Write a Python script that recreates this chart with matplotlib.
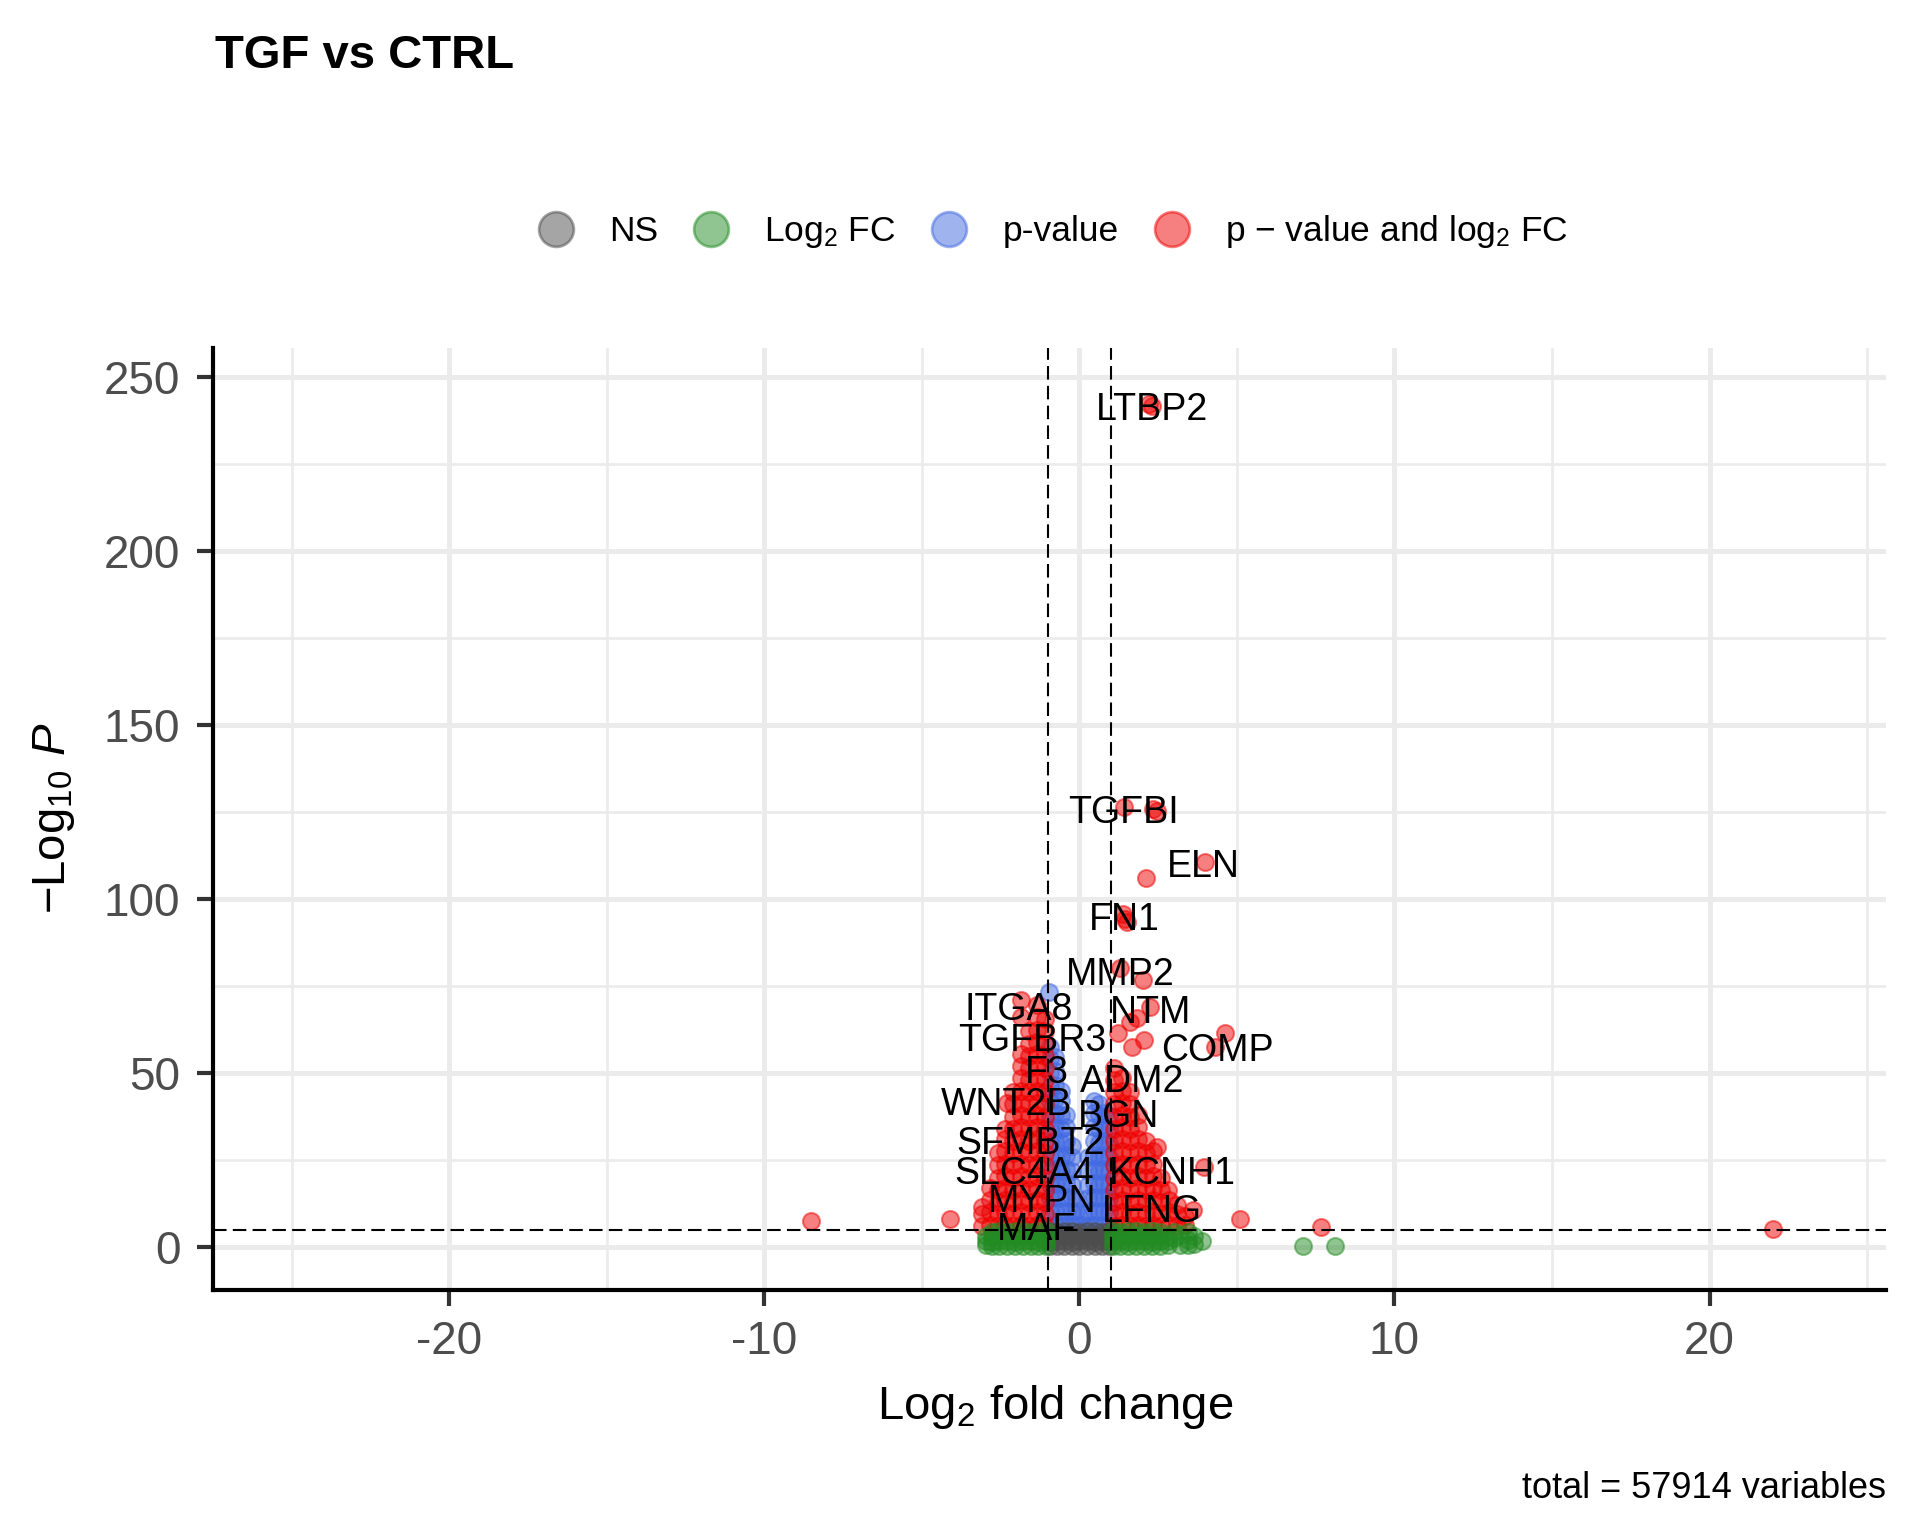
import matplotlib
matplotlib.use("Agg")
import matplotlib.pyplot as plt
from matplotlib.lines import Line2D
from matplotlib.colors import to_rgba

plt.rcParams["font.family"] = "Liberation Sans"
plt.rcParams["mathtext.fontset"] = "custom"
plt.rcParams["mathtext.rm"] = "Liberation Sans"
plt.rcParams["mathtext.it"] = "Liberation Sans:italic"
plt.rcParams["axes.unicode_minus"] = False

# --- data: (log2FC, [-log10 p, ...]) ---
ns_cols = [
    (-0.95, [0.2, 1.6, 3.1, 4.6]),
    (-0.72, [0.3, 1.8, 3.2, 4.5]),
    (-0.48, [0.2, 1.7, 3.0, 4.7]),
    (-0.25, [0.4, 1.6, 3.1, 4.6]),
    (0.0, [0.3, 1.8, 3.2, 4.5]),
    (0.24, [0.2, 1.7, 3.0, 4.7]),
    (0.48, [0.4, 1.6, 3.1, 4.6]),
    (0.72, [0.3, 1.8, 3.2, 4.5]),
    (0.95, [0.2, 1.7, 3.0, 4.6]),
]

fc_cols = [
    (-2.98, [0.5, 1.8, 3.1]),
    (-2.78, [0.2, 1.6, 3.0, 4.3]),
    (-2.55, [0.3, 1.7, 3.1, 4.6]),
    (-2.3, [0.2, 1.8, 3.2, 4.5]),
    (-2.05, [0.4, 1.6, 3.0, 4.7]),
    (-1.8, [0.3, 1.7, 3.1, 4.6]),
    (-1.55, [0.2, 1.8, 3.2, 4.5]),
    (-1.3, [0.4, 1.6, 3.0, 4.7]),
    (-1.07, [0.3, 1.7, 3.1, 4.6]),
    (1.07, [0.3, 1.7, 3.1, 4.6]),
    (1.3, [0.2, 1.8, 3.2, 4.5]),
    (1.55, [0.4, 1.6, 3.0, 4.7]),
    (1.8, [0.3, 1.7, 3.1, 4.6]),
    (2.05, [0.2, 1.8, 3.2, 4.5]),
    (2.3, [0.4, 1.6, 3.0, 4.6]),
    (2.55, [0.3, 1.7, 3.1, 4.4]),
    (2.8, [0.5, 1.9, 3.3]),
    (3.0, [4.4, 2.6]),
    (3.2, [0.5, 3.6]),
    (3.45, [4.5, 2.2, 0.6]),
    (3.65, [1.0, 3.3]),
    (3.88, [1.7]),
    (7.1, [0.3]),
    (8.1, [0.4]),
]

p_cols = [
    (-0.98, [73.4]),
    (-0.95, [6, 10, 14, 18, 22, 26, 30, 34, 38, 42, 46, 50, 54, 57.5]),
    (-0.78, [6.5, 10.5, 14.5, 18.5, 22.5, 26.5, 30.5, 34.5, 38.5, 42.5, 46.5, 50.5, 54.5]),
    (-0.6, [6, 10, 14, 18, 22, 26, 30, 34, 38, 42, 45]),
    (-0.42, [6.5, 10.5, 14.5, 18.5, 22.5, 26.5, 30.5, 34.5, 38]),
    (-0.25, [6, 10, 14, 18, 22, 26, 29]),
    (-0.1, [6.5, 10.5, 14]),
    (0.12, [6.5, 9.5]),
    (0.28, [6, 10, 14, 18, 22, 26]),
    (0.45, [6.5, 10.5, 14.5, 18.5, 22.5, 26.5, 30.5, 34.5, 38.5, 42]),
    (0.62, [6, 10, 14, 18, 22, 26, 30, 34, 38, 41]),
    (0.78, [6.5, 10.5, 14.5, 18.5, 22.5, 26.5, 30.5, 34.5, 38.5]),
    (0.94, [6, 10, 14, 18, 22, 26, 30, 34, 38]),
]

both_cols = [
    (-1.1, [6, 9.5, 13, 16.5, 20, 23.5, 27, 30.5, 34, 37.5, 41, 44.5, 48, 51.5, 55, 58.5, 62, 65.5]),
    (-1.35, [6.5, 10, 13.5, 17, 20.5, 24, 27.5, 31, 34.5, 38, 41.5, 45, 48.5, 52, 55.5, 59, 62.5, 66, 69.5]),
    (-1.6, [6, 9.5, 13, 16.5, 20, 23.5, 27, 30.5, 34, 37.5, 41, 44.5, 48, 51.5, 55, 58.5, 62]),
    (-1.85, [6.5, 10, 13.5, 17, 20.5, 24, 27.5, 31, 34.5, 38, 41.5, 45, 48.5, 52, 55.5, 66, 71]),
    (-2.1, [6, 9.5, 13, 16.5, 20, 23.5, 27, 30.5, 34, 37.5, 41, 44.5]),
    (-2.3, [41.3]),
    (-2.35, [6.5, 10, 13.5, 17, 20.5, 24, 27.5, 31, 34]),
    (-2.6, [6, 9.5, 13, 16.5, 20, 23.5, 27]),
    (-2.85, [6.5, 10, 13.5, 17]),
    (-3.1, [6, 9.5, 11.6]),
    (-4.1, [8.2]),
    (-8.51, [7.5]),
    (1.1, [6, 9.5, 13, 16.5, 20, 23.5, 27, 30.5, 34, 37.5, 41, 44.5, 48, 51.5]),
    (1.24, [61.4]),
    (1.35, [6.5, 10, 13.5, 17, 20.5, 24, 27.5, 31, 34.5, 38, 41.5, 45, 48.5]),
    (1.6, [6, 9.5, 13, 16.5, 20, 23.5, 27, 30.5, 34, 37.5, 41, 44.5, 64.8]),
    (1.67, [57.6]),
    (1.83, [65.7]),
    (1.85, [6.5, 10, 13.5, 17, 20.5, 24, 27.5, 31, 34.5, 38]),
    (2.04, [59.5]),
    (2.1, [6, 9.5, 13, 16.5, 20, 23.5, 27, 30.5]),
    (2.25, [69.1]),
    (2.35, [6.5, 10, 13.5, 17, 20.5, 24, 27.5]),
    (2.46, [28.7]),
    (2.6, [6, 9.5, 13, 16.5, 20]),
    (2.8, [16.4]),
    (2.85, [6.5, 10, 13.5]),
    (3.1, [6, 9.5, 12]),
    (3.35, [6.5, 9]),
    (3.62, [10.6]),
    (3.94, [23.1]),
    (4.31, [57.6]),
    (4.63, [61.4]),
    (5.1, [8.2]),
    (7.66, [5.7]),
    (22.0, [5.3]),
    (1.30, [80.1]),
    (2.03, [76.7]),
    (1.38, [95.8]),
    (1.45, [94.4]),
    (1.52, [93.4]),
    (2.12, [106.1]),
    (3.99, [110.7]),
    (1.41, [126.5]),
    (2.32, [125.8]),
    (2.45, [125.3]),
    (2.22, [242.3]),
    (2.30, [241.5]),
]

gene_names = ["LTBP2", "TGFBI", "ELN", "FN1", "MMP2", "NTM", "ITGA8", "TGFBR3",
              "COMP", "F3", "ADM2", "WNT2B", "BGN", "SFMBT2", "SLC4A4", "KCNH1",
              "MYPN", "LFNG", "MAF"]
gene_x = [2.30, 1.39, 3.92, 1.41, 1.30, 2.25, -1.93, -1.51, 4.37, -1.03, 1.67,
          -2.30, 1.24, -1.56, -1.77, 2.94, -1.19, 2.31, -1.35]
gene_y = [241.5, 125.6, 110.3, 94.9, 79.1, 68.1, 69.1, 60.3, 57.3, 50.9, 48.5,
          41.8, 38.4, 30.7, 22.1, 22.1, 14.0, 11.1, 5.8]

legend_labels = ["NS", "Log$_2$ FC", "p-value", "p \u2212 value and log$_2$ FC"]
group_colors = ["#4D4D4D", "#228B22", "#4169E1", "#EE0000"]

x_major = [-20, -10, 0, 10, 20]
x_minor = [-25, -15, -5, 5, 15, 25]
y_major = [0, 50, 100, 150, 200, 250]
y_minor = [25, 75, 125, 175, 225]


def cols_to_xy(cols):
    xs, ys = [], []
    for x, yy in cols:
        for y in yy:
            xs.append(x)
            ys.append(y)
    return xs, ys


W, H = 1920, 1536
fig = plt.figure(figsize=(W / 100, H / 100), dpi=100)
ax = fig.add_axes([213 / W, 1 - 1290 / H, (1886 - 213) / W, (1290 - 348) / H])

# draw order: p-value, both, NS, Log2 FC
for cols, color in [(p_cols, group_colors[2]), (both_cols, group_colors[3]),
                    (ns_cols, group_colors[0]), (fc_cols, group_colors[1])]:
    xs, ys = cols_to_xy(cols)
    ax.scatter(xs, ys, s=150, facecolor=to_rgba(color, 0.5),
               edgecolor=to_rgba(color, 0.5), linewidths=1.5, zorder=3)

dash = (0, (6.5, 3))
ax.axvline(-1, color="black", lw=1.5, ls=dash, zorder=4)
ax.axvline(1, color="black", lw=1.5, ls=dash, zorder=4)
ax.axhline(5, color="black", lw=1.5, ls=dash, zorder=4)

for name, gx, gy in zip(gene_names, gene_x, gene_y):
    ax.annotate(name, (gx, gy), xytext=(0, -9.6), textcoords="offset points",
                ha="center", va="baseline", fontsize=27, color="black", zorder=5)

ax.set_xlim(-27.5, 25.6)
ax.set_ylim(-12.3, 258.3)
ax.set_xticks(x_major)
ax.set_xticks(x_minor, minor=True)
ax.set_yticks(y_major)
ax.set_yticks(y_minor, minor=True)
ax.grid(which="major", color="#EBEBEB", lw=3.6, zorder=0)
ax.grid(which="minor", color="#EBEBEB", lw=1.9, zorder=0)
ax.set_axisbelow(True)

for s in ["top", "right"]:
    ax.spines[s].set_visible(False)
for s in ["left", "bottom"]:
    ax.spines[s].set_linewidth(3.0)
    ax.spines[s].set_color("black")

ax.tick_params(which="major", direction="out", length=11.5, width=3.0,
               color="#333333", labelsize=33, labelcolor="#4D4D4D")
ax.tick_params(axis="x", which="major", pad=10)
ax.tick_params(axis="y", which="major", pad=12)
ax.tick_params(which="minor", length=0)

fig.text(215 / W, 1 - 68 / H, "TGF vs CTRL", fontsize=34, fontweight="bold",
         ha="left", va="baseline")
fig.text(1055 / W, 1 - 1419 / H, "Log$_2$ fold change", fontsize=34,
         ha="center", va="baseline")
fig.text(54 / W, 1 - 818 / H, r"$-$Log$_{10}$ $\mathit{P}$", fontsize=34,
         rotation=90, ha="center", va="center")
fig.text(1886 / W, 1 - 1498 / H, "total = 57914 variables", fontsize=26,
         ha="right", va="baseline")

handles = [Line2D([], [], marker="o", linestyle="none", markersize=25,
                  markerfacecolor=to_rgba(c, 0.5), markeredgecolor=to_rgba(c, 0.5),
                  markeredgewidth=2.0) for c in group_colors]
fig.legend(handles, legend_labels, loc="center", bbox_to_anchor=(0.5485, 0.849),
           ncol=4, frameon=False, fontsize=25.5, handlelength=1.0,
           handletextpad=1.0, columnspacing=1.0, borderaxespad=0, borderpad=0)

fig.savefig("out.png", dpi=100)
